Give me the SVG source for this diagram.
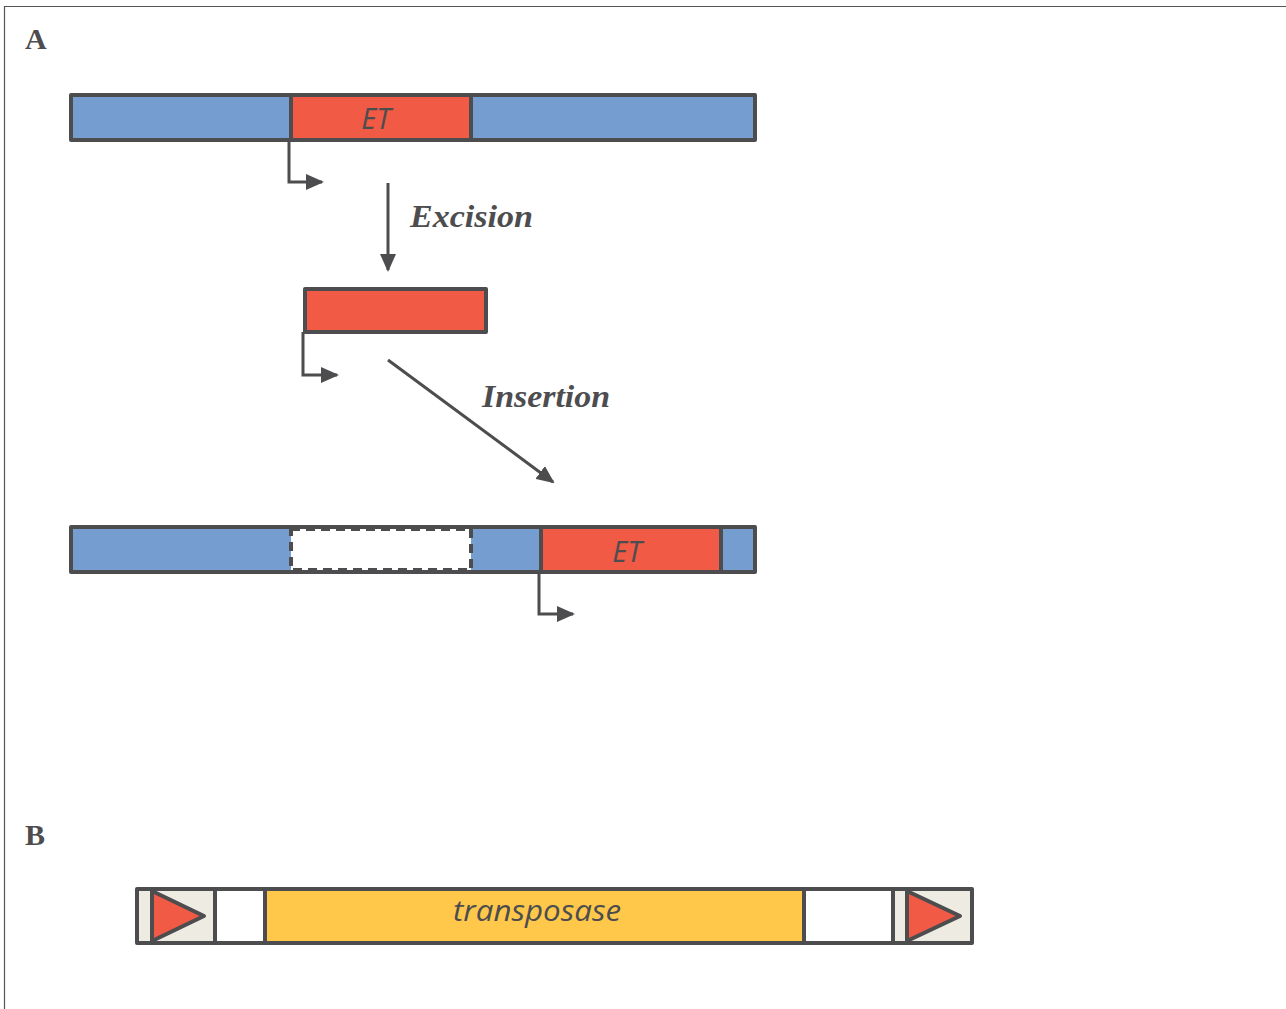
<svg xmlns="http://www.w3.org/2000/svg" width="1286" height="1009" viewBox="0 0 1286 1009">
<defs>
<style>
.seg{stroke:#4d4d4f;stroke-width:4;stroke-linejoin:round}
.blue{fill:#759dd0}
.red{fill:#f15a44}
.yel{fill:#ffc84a}
.beige{fill:#eeebe3}
.wh{fill:#ffffff}
.ln{fill:none;stroke:#4d4d4f;stroke-width:3}
.lbl{font-family:"Open Sans","DejaVu Sans",sans-serif;font-style:italic;fill:#4d4d4f}
.step{font-family:"Liberation Serif",serif;font-style:italic;font-weight:bold;font-size:32px;fill:#4d4d4f}
.panel{font-family:"Liberation Serif",serif;font-weight:bold;font-size:30px;fill:#4d4d4f}
</style>
<marker id="ah2" markerWidth="18" markerHeight="16" refX="16" refY="8" orient="auto" markerUnits="userSpaceOnUse" viewBox="0 0 18 16">
<path d="M0,0 L18,8 L0,16 Z" fill="#4d4d4f"/>
</marker>
</defs>
<rect x="0" y="0" width="1286" height="1009" fill="#ffffff"/>
<path d="M4.5,1009 V6.5 H1286" fill="none" stroke="#555" stroke-width="1.2"/>
<text class="panel" x="25" y="49">A</text>
<text class="panel" x="25" y="845">B</text>

<g id="donor">
<rect class="seg blue" x="71" y="95" width="684" height="45"/>
<rect class="seg red" x="291" y="95" width="180" height="45"/>
<text class="lbl" x="376" y="129" font-size="29" text-anchor="middle">ET</text>
</g>
<g id="excised">
<rect class="seg red" x="305" y="289" width="181" height="43"/>
</g>
<g id="target">
<rect class="seg blue" x="71" y="527" width="684" height="45"/>
<rect x="291" y="529" width="180" height="41" fill="#ffffff" stroke="#4d4d4f" stroke-width="4" stroke-dasharray="9,6"/>
<rect class="seg red" x="541" y="527" width="180" height="45"/>
<text class="lbl" x="627" y="562" font-size="29" text-anchor="middle">ET</text>
</g>
<g id="transposon">
<rect class="seg beige" x="137" y="889" width="835" height="54"/>
<rect class="seg wh" x="215" y="889" width="50" height="54"/>
<rect class="seg yel" x="265" y="889" width="539" height="54"/>
<rect class="seg wh" x="804" y="889" width="89" height="54"/>
<path class="seg red" d="M152,891 L204,916 L152,941 Z"/>
<path class="seg red" d="M907,891 L960,916 L907,941 Z"/>
<text class="lbl" x="537" y="921" font-size="30" text-anchor="middle" textLength="168" lengthAdjust="spacingAndGlyphs">transposase</text>
</g>

<g id="connectors">
<path class="ln" d="M289,140 V182 H322" marker-end="url(#ah2)"/>
<path class="ln" d="M303,332 V375 H337" marker-end="url(#ah2)"/>
<path class="ln" d="M539,572 V614 H573" marker-end="url(#ah2)"/>
<line class="ln" x1="388" y1="183" x2="388" y2="270" marker-end="url(#ah2)"/>
<line class="ln" x1="388" y1="360" x2="553" y2="482" marker-end="url(#ah2)"/>
</g>
<text class="step" x="410" y="227" textLength="123" lengthAdjust="spacingAndGlyphs">Excision</text>
<text class="step" x="482" y="407" textLength="128" lengthAdjust="spacingAndGlyphs">Insertion</text>
</svg>
